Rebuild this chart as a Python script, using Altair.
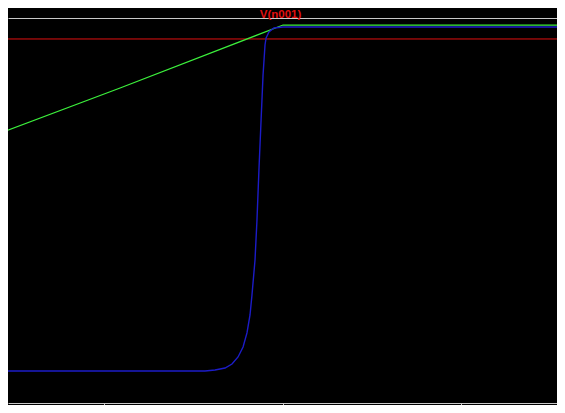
import altair as alt
import pandas as pd

# Time axis (arbitrary units, ticks at 1, 2, 3) and voltage values
blue_t = [0.40, 1.566, 1.622, 1.678, 1.717, 1.751, 1.779, 1.801, 1.818, 1.829, 1.846,
          1.857, 1.868, 1.880, 1.891, 1.902, 1.908, 1.924, 1.952, 2.003, 3.60]
blue_v = [0.0, 0.0, 0.014, 0.043, 0.101, 0.203, 0.348, 0.551, 0.812, 1.101, 1.609,
          2.188, 2.913, 3.638, 4.29, 4.725, 4.826, 4.913, 4.971, 4.986, 4.986]

green_t = [0.40, 1.090, 2.003, 3.60]
green_v = [3.432, 4.101, 5.014, 5.014]

red_level = [4.812]

x_ticks = [1, 2, 3]
x_domain = [0.462, 3.538]
y_domain = [-0.464, 5.116]

blue_df = pd.DataFrame({"t": blue_t, "v": blue_v})
green_df = pd.DataFrame({"t": green_t, "v": green_v})
red_df = pd.DataFrame({"v": red_level})

axis_col = "#c8c8c8"

x_bottom = alt.X("t:Q", scale=alt.Scale(domain=x_domain, nice=False, zero=False),
                 axis=alt.Axis(orient="bottom", values=x_ticks, labels=False, grid=False,
                               title=None, domainColor=axis_col, tickColor=axis_col,
                               tickSize=3, domainWidth=1, tickWidth=1))
x_top = alt.X("t:Q", scale=alt.Scale(domain=x_domain, nice=False, zero=False),
              axis=alt.Axis(orient="top", ticks=False, labels=False, grid=False,
                            title=None, domainColor=axis_col, domainWidth=1))
y_enc = alt.Y("v:Q", scale=alt.Scale(domain=y_domain, nice=False, zero=False), axis=None)

red = alt.Chart(red_df).mark_rule(stroke="#e01010", color="#e01010", strokeWidth=1).encode(y=y_enc)

green = alt.Chart(green_df).mark_line(color="#3cf03c", strokeWidth=1.2, clip=True).encode(
    x=x_bottom, y=y_enc)

blue = alt.Chart(blue_df).mark_line(color="#1c1cc8", strokeWidth=1.4, clip=True).encode(
    x=x_top, y=y_enc)

chart = alt.layer(red, green, blue).resolve_axis(x="independent").properties(
    width=549,
    height=385,
    autosize=alt.AutoSizeParams(type="none"),
    padding={"top": 10, "bottom": 2, "left": 0, "right": 0},
    title=alt.TitleParams("V(n001)", color="#e01010", fontSize=11.5, fontWeight="bold",
                          font="Liberation Sans", anchor="middle", offset=0,
                          baseline="alphabetic", dx=-2, dy=11),
).configure(background="black").configure_view(stroke=None)

chart.save("out.html", embed_options={"renderer": "svg", "actions": False})
